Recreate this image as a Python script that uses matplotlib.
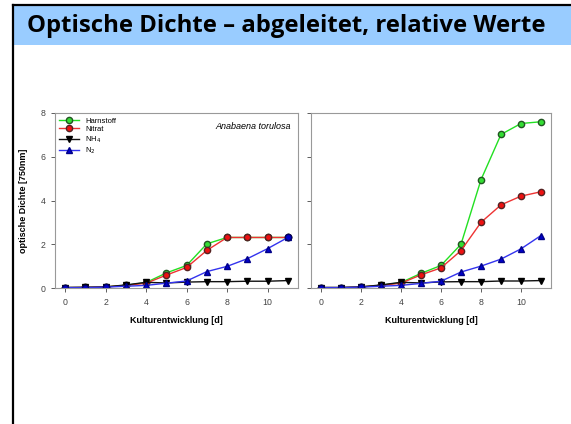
import matplotlib.pyplot as plt
from matplotlib.patches import Rectangle
from matplotlib.lines import Line2D

days = list(range(12))

# left panel: Anabaena torulosa
left_harnstoff = [0.02, 0.03, 0.05, 0.12, 0.25, 0.69, 1.03, 2.02, 2.31, 2.31, 2.31, 2.31]
left_nitrat = [0.02, 0.03, 0.05, 0.12, 0.22, 0.59, 0.94, 1.72, 2.31, 2.31, 2.31, 2.31]
left_nh4 = [0.02, 0.03, 0.05, 0.14, 0.26, 0.23, 0.27, 0.29, 0.29, 0.31, 0.31, 0.34]
left_n2 = [0.02, 0.02, 0.04, 0.08, 0.12, 0.22, 0.32, 0.75, 0.99, 1.34, 1.80, 2.31]

# right panel
right_harnstoff = [0.02, 0.02, 0.05, 0.12, 0.25, 0.67, 1.03, 2.0, 4.95, 7.02, 7.52, 7.6]
right_nitrat = [0.02, 0.02, 0.05, 0.12, 0.22, 0.6, 0.92, 1.71, 3.0, 3.8, 4.2, 4.4]
right_nh4 = [0.02, 0.02, 0.05, 0.14, 0.26, 0.23, 0.28, 0.29, 0.29, 0.32, 0.32, 0.34]
right_n2 = [0.02, 0.02, 0.04, 0.08, 0.12, 0.21, 0.31, 0.73, 1.0, 1.32, 1.79, 2.4]

# days where the N2 point sits on the circle series
left_overlap = [0, 1, 2, 11]
right_overlap = [0, 1, 2]

labels = ['Harnstoff', 'Nitrat', 'NH$_4$', 'N$_2$']
x_ticks = [0, 2, 4, 6, 8, 10]
y_ticks = [0, 2, 4, 6, 8]

styles = [
    dict(color='#22e022', marker='o', mfc='#33dd33', mec='#225522', ms=4.5),
    dict(color='#ee3333', marker='o', mfc='#ee1111', mec='#552222', ms=4.5),
    dict(color='#111111', marker='v', mfc='#000000', mec='#000000', ms=4),
    dict(color='#3333ee', marker='^', mfc='#0000cc', mec='#000088', ms=4),
]

fig = plt.figure(figsize=(5.71, 4.24), dpi=100)
plt.rcParams['font.family'] = ['Liberation Sans', 'DejaVu Sans']

# slide header
fig.patches.append(Rectangle((13 / 571, 1 - 45 / 424), 1 - 13 / 571, 40 / 424,
                             transform=fig.transFigure, facecolor='#99ccff',
                             edgecolor='none', zorder=0))
fig.lines.append(Line2D([13 / 571, 1], [1 - 5 / 424, 1 - 5 / 424],
                        transform=fig.transFigure, color='black', lw=1.6))
fig.lines.append(Line2D([13 / 571, 13 / 571], [0, 1 - 5 / 424],
                        transform=fig.transFigure, color='black', lw=1.6))
fig.text(27 / 571, 1 - 26 / 424, 'Optische Dichte \u2013 abgeleitet, relative Werte',
         fontsize=17.2, fontweight='bold', family=['Open Sans', 'DejaVu Sans'],
         va='center', ha='left')


def panel(rect, series, overlap, show_ylabels):
    ax = fig.add_axes(rect)
    for vals, st, lab in zip(series, styles, labels):
        ax.plot(days, vals, lw=1, label=lab, **st)
    n2 = series[3]
    ax.plot(overlap, [n2[d] for d in overlap], ls='none', marker='o',
            mfc='#0000cc', mec='#000066', ms=4.5)
    ax.set_xlim(-0.5, 11.5)
    ax.set_ylim(0, 8)
    ax.set_xticks(x_ticks)
    ax.set_yticks(y_ticks)
    ax.tick_params(labelsize=6.3, colors='#444444', length=3, width=0.6, pad=4)
    if not show_ylabels:
        ax.set_yticklabels([])
    for s in ax.spines.values():
        s.set_color('#999999')
        s.set_linewidth(0.8)
    ax.set_xlabel('Kulturentwicklung [d]', fontsize=6.5, fontweight='bold', labelpad=7)
    return ax


ax1 = panel([55 / 571, 1 - 288 / 424, 243 / 571, 175 / 424],
            [left_harnstoff, left_nitrat, left_nh4, left_n2], left_overlap, True)
ax1.set_ylabel('optische Dichte [750nm]', fontsize=6.5, fontweight='bold', labelpad=9)
ax1.text(0.97, 0.95, 'Anabaena torulosa', transform=ax1.transAxes, ha='right',
         va='top', fontsize=6.5, style='italic')
ax1.legend(loc='upper left', frameon=False, fontsize=5.5, handlelength=2.6,
           labelspacing=0.15, borderaxespad=0.15, bbox_to_anchor=(0.0, 1.0))

ax2 = panel([311 / 571, 1 - 288 / 424, 240 / 571, 175 / 424],
            [right_harnstoff, right_nitrat, right_nh4, right_n2], right_overlap, False)

fig.savefig('out.png', dpi=100)
